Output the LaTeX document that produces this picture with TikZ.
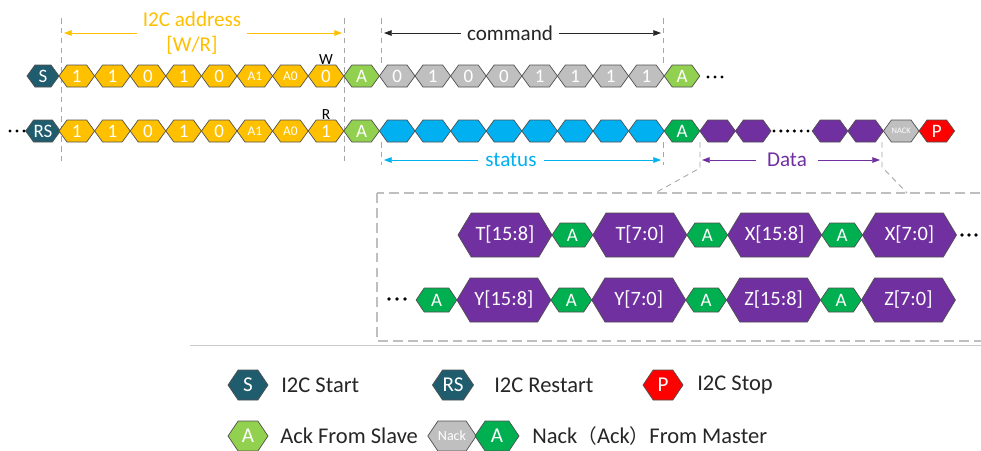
\documentclass[tikz,border=0pt]{standalone}
\usepackage{fontspec}
\setmainfont{Carlito}
\newfontfamily\cjk{Noto Sans CJK SC}
\usetikzlibrary{shapes.symbols,arrows.meta,positioning}
\definecolor{startcol}{HTML}{1F5C6E}
\definecolor{addrcol}{HTML}{FFC000}
\definecolor{cmdcol}{HTML}{BFBFBF}
\definecolor{statcol}{HTML}{00B0F0}
\definecolor{datacol}{HTML}{7030A0}
\definecolor{slavecol}{HTML}{92D050}
\definecolor{mastercol}{HTML}{00B050}
\definecolor{stopcol}{HTML}{FF0000}
\definecolor{hexline}{HTML}{505050}
\definecolor{guidecol}{HTML}{A6A6A6}
\definecolor{boxcol}{HTML}{BFBFBF}
\definecolor{inkcol}{HTML}{262626}
\newcommand\pinfont{\fontsize{9.5}{9.5}\selectfont}
\newcommand\nackfont{\fontsize{6}{6}\selectfont}
\tikzset{
  hex/.style={shape=signal, signal to=east and west, signal pointer angle=108,
    draw=hexline, line width=0.5pt, inner sep=0pt, outer sep=0pt, text=white,
    minimum height=0.55cm, minimum width=0.89cm, font=\fontsize{13.5}{13.5}\selectfont},
  startbit/.style={hex, fill=startcol, minimum width=0.8cm},
  addrbit/.style={hex, fill=addrcol},
  cmdbit/.style={hex, fill=cmdcol},
  statbit/.style={hex, fill=statcol},
  databit/.style={hex, fill=datacol},
  slaveack/.style={hex, fill=slavecol},
  masterack/.style={hex, fill=mastercol},
  nackbit/.style={hex, fill=cmdcol},
  stopbit/.style={hex, fill=stopcol},
  bighex/.style={hex, signal pointer angle=118, minimum height=1.1cm,
    minimum width=2.35cm, fill=datacol, font=\fontsize{14.5}{14.5}\selectfont},
  smallack/.style={hex, signal pointer angle=112, minimum height=0.6cm,
    minimum width=1.02cm, fill=mastercol, font=\fontsize{13.5}{13.5}\selectfont},
  keyhex/.style={hex, signal pointer angle=112, minimum height=0.75cm,
    minimum width=1cm, font=\fontsize{15}{15}\selectfont},
  keytext/.style={anchor=west, inner sep=0pt, text=inkcol, font=\fontsize{16}{16}\selectfont},
  flag/.style={inner sep=0pt, text=black, font=\fontsize{11}{11}\selectfont},
  spanlabel/.style={inner sep=4pt, font=\fontsize{15}{18}\selectfont, align=center},
  span/.style={line width=0.6pt, -{Triangle[length=5.5pt,width=4pt]}},
  guide/.style={draw=guidecol, line width=0.6pt, dash pattern=on 4pt off 3pt},
  zoombox/.style={draw=boxcol, line width=1.3pt, dash pattern=on 7pt off 3.6pt},
}
\begin{document}
\begin{tikzpicture}[x=0.025cm,y=-0.025cm]
\clip (0,0) rectangle (981,450);
\fill[white] (0,0) rectangle (981,450);
\draw[guide] (61,18) -- (61,162);
\draw[guide] (344,18) -- (344,162);
\draw[guide] (381,18) -- (381,66);
\draw[guide] (381,142) -- (381,165);
\draw[guide] (663,18) -- (663,66);
\draw[guide] (663,142) -- (663,165);
\draw[guide] (700,142) -- (700,168) -- (655,193);
\draw[guide] (882,142) -- (882,167) -- (907,193);
\draw[zoombox] (377,193) rectangle (1000,341);
\draw[guidecol!60, line width=0.6pt] (190,345) -- (981,345);
\node[startbit] (w0) at (43,76) {S};
\foreach \b [count=\i] in {1,1,0,1,0,{\pinfont A1},{\pinfont A0},0}
  \node[addrbit] (w\i) at ({41.2+35.6*\i},76) {\b};
\node[slaveack] (wack) at (361.6,76) {A};
\foreach \b [count=\i] in {0,1,0,0,1,1,1,1}
  \node[cmdbit] (c\i) at ({361.6+35.6*\i},76) {\b};
\node[slaveack] (cack) at (682,76) {A};
\foreach \x in {708,715,722} \fill (\x,77) circle (1.7);
\node[flag, above=0.3pt of w8] {W};
\node[startbit] (r0) at (43,131) {RS};
\foreach \b [count=\i] in {1,1,0,1,0,{\pinfont A1},{\pinfont A0},1}
  \node[addrbit] (r\i) at ({41.2+35.6*\i},131) {\b};
\node[slaveack] (rack) at (361.6,131) {A};
\foreach \i in {1,...,8}
  \node[statbit] (s\i) at ({361.6+35.6*\i},131) {};
\node[masterack] (sack) at (682,131) {A};
\node[databit] (d1) at (717.6,131) {};
\node[databit] (d2) at (753.2,131) {};
\node[databit] (d3) at (830,131) {};
\node[databit] (d4) at (865.6,131) {};
\node[nackbit] (nack) at (901.2,131) {\nackfont NACK};
\node[stopbit] (stop) at (936.8,131) {P};
\foreach \x in {10,17,24} \fill (\x,131) circle (1.7);
\foreach \x in {774,780.8,787.6,794.4,801.2,808} \fill (\x,131) circle (1.7);
\node[flag, above=0.3pt of r8] {R};
\node[spanlabel, text=addrcol] (addr) at (192,33) {I2C address\\{[W/R]}};
\coordinate (addrL) at (64,33);
\coordinate (addrR) at (342,33);
\draw[span, addrcol] (addr) -- (addrL);
\draw[span, addrcol] (addr) -- (addrR);
\node[spanlabel, text=inkcol] (cmd) at (510,33) {command};
\coordinate (cmdL) at (384,33);
\coordinate (cmdR) at (661,33);
\draw[span, inkcol] (cmd) -- (cmdL);
\draw[span, inkcol] (cmd) -- (cmdR);
\node[spanlabel, text=statcol, inner sep=5pt] (stat) at (511,160) {status};
\coordinate (statL) at (384,160);
\coordinate (statR) at (661,160);
\draw[span, statcol] (stat) -- (statL);
\draw[span, statcol] (stat) -- (statR);
\node[spanlabel, text=datacol, inner sep=8pt] (data) at (787,160) {Data};
\coordinate (dataL) at (702,160);
\coordinate (dataR) at (880,160);
\draw[span, datacol] (data) -- (dataL);
\draw[span, datacol] (data) -- (dataR);
\node[bighex] (t1) at (505,235) {T[15:8]};
\node[smallack, right=0pt of t1] (ta1) {A};
\node[bighex, right=0pt of ta1] (t2) {T[7:0]};
\node[smallack, right=0pt of t2] (ta2) {A};
\node[bighex, right=0pt of ta2] (x1) {X[15:8]};
\node[smallack, right=0pt of x1] (xa1) {A};
\node[bighex, right=0pt of xa1] (x2) {X[7:0]};
\foreach \x in {962,969,976} \fill (\x,235) circle (1.9);
\foreach \x in {389,397,405} \fill (\x,299) circle (1.9);
\node[smallack] (ya0) at (436.5,300) {A};
\node[bighex, right=0pt of ya0] (y1) {Y[15:8]};
\node[smallack, right=0pt of y1] (ya1) {A};
\node[bighex, right=0pt of ya1] (y2) {Y[7:0]};
\node[smallack, right=0pt of y2] (ya2) {A};
\node[bighex, right=0pt of ya2] (z1) {Z[15:8]};
\node[smallack, right=0pt of z1] (za1) {A};
\node[bighex, right=0pt of za1] (z2) {Z[7:0]};
\node[keyhex, fill=startcol] (ks) at (248,385) {S};
\node[keytext] (kstxt) at (281,385) {I2C Start};
\node[keyhex, fill=startcol] (krs) at (453,385) {RS};
\node[keytext] (krstxt) at (494,385) {I2C Restart};
\node[keyhex, fill=stopcol] (kp) at (663,385) {P};
\node[keytext] (kptxt) at (697,385) {I2C Stop};
\node[keyhex, fill=slavecol] (kack) at (248,436) {A};
\node[keytext] (kacktxt) at (280,436) {Ack From Slave};
\node[keyhex, fill=cmdcol, minimum width=1.12cm, font=\fontsize{10}{10}\selectfont] (knack) at (452,436) {Nack};
\node[keyhex, fill=mastercol, minimum width=1.1cm] (kmack) at (497,436) {A};
\node[keytext] (kmtxt) at (532,436) {Nack{\cjk\fontsize{14}{14}\selectfont（}Ack{\cjk\fontsize{14}{14}\selectfont）}From Master};
\end{tikzpicture}
\end{document}
